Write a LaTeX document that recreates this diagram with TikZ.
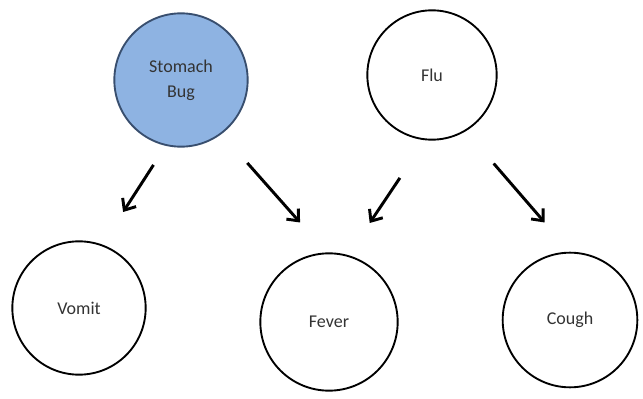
\documentclass[tikz,border=0pt]{standalone}
\usepackage{fontspec}
\setmainfont{Carlito}
\usepackage{tikz}
\usetikzlibrary{arrows.meta}

\definecolor{bugblue}{RGB}{142,179,226}
\definecolor{bugedge}{RGB}{56,78,110}

\begin{document}
\begin{tikzpicture}[
            x=0.75pt, y=-0.75pt,
            causenode/.style={circle, draw=black, line width=1.4pt, minimum size=100pt, inner sep=0pt, align=center, font=\fontsize{13.5}{19}\selectfont, text=black!80},
            bugnode/.style={causenode, fill=bugblue, draw=bugedge},
            link/.style={line width=2.2pt, -{Straight Barb[length=7pt, width=12pt]}}
        ]
            \useasboundingbox (0, 0) rectangle (643, 399);

            % causes (top row)
            \node[bugnode] (bug) at (181, 80) {Stomach\\Bug};
            \node[causenode, minimum size=97pt] (flu) at (432, 75) {Flu};

            % symptoms (bottom row)
            \node[causenode] (vomit) at (79, 308) {Vomit};
            \node[causenode, minimum size=103pt] (fever) at (329, 322) {Fever};
            \node[causenode, minimum size=101pt] (cough) at (570, 320) {Cough};

            % arrows
            \draw[link, shorten <=17pt, shorten >=29pt] (bug.257) -- (vomit.70);
            \draw[link, shorten <=29pt, shorten >=30pt] (bug.307) -- (fever.92);
            \draw[link, shorten <=34pt, shorten >=29pt] (flu.264) -- (fever.74);
            \draw[link, shorten <=32pt, shorten >=29pt] (flu.301) -- (cough.90);

        \end{tikzpicture}
\end{document}
